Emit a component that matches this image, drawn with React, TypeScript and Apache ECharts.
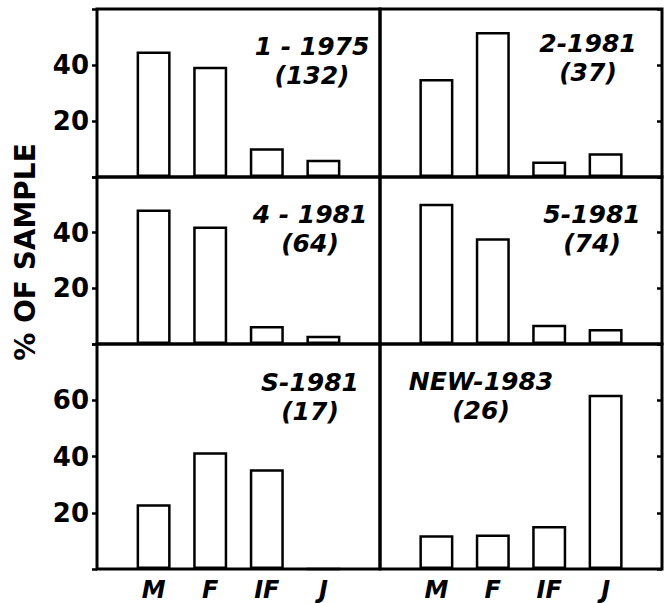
import React, { useEffect, useRef } from "react";
import * as echarts from "echarts";

const categories = ["M", "F", "IF", "J"];
const panelTitles = ["1 - 1975", "2-1981", "4 - 1981", "5-1981", "S-1981", "NEW-1983"];
const sampleSizes = ["(132)", "(37)", "(64)", "(74)", "(17)", "(26)"];
const values1975_1 = [44.8, 39.4, 10.3, 6.2];
const values1981_2 = [35.0, 51.8, 5.5, 8.5];
const values1981_4 = [48.3, 42.2, 6.5, 3.0];
const values1981_5 = [50.4, 38.0, 6.9, 5.4];
const values1981_S = [23.0, 41.5, 35.5, 0];
const values1983_NEW = [12.0, 12.3, 15.3, 62.0];
const upperTicks = [20, 40];
const lowerTicks = [20, 40, 60];
const upperMax = 60;
const lowerMax = 80;
const yAxisTitle = "% OF SAMPLE";

const panelValues = [values1975_1, values1981_2, values1981_4, values1981_5, values1981_S, values1983_NEW];

// layout (pixels)
const cols = [
  { left: 97, width: 283 },
  { left: 380, width: 282 },
];
const rows = [
  { top: 9, height: 168 },
  { top: 177, height: 167 },
  { top: 344, height: 225 },
];
const titleOffsets = [
  { dx: 215, dy: 23 },
  { dx: 208, dy: 20 },
  { dx: 213, dy: 23 },
  { dx: 212, dy: 23 },
  { dx: 213, dy: 24 },
  { dx: 101, dy: 23 },
];

const FONT = "DejaVu Sans";

export default function App() {
  const ref = useRef<HTMLDivElement>(null);
  useEffect(() => {
    if (!ref.current) return;
    const chart = echarts.init(ref.current, null, { renderer: "svg" });
    const grids: any[] = [];
    const xAxes: any[] = [];
    const yAxes: any[] = [];
    const series: any[] = [];
    const graphics: any[] = [];
    for (let p = 0; p < 6; p++) {
      const r = Math.floor(p / 2);
      const c = p % 2;
      const isBottom = r === 2;
      const ticks = isBottom ? lowerTicks : upperTicks;
      grids.push({
        left: cols[c].left,
        width: cols[c].width,
        top: rows[r].top,
        height: rows[r].height,
        show: true,
        borderColor: "#000",
        borderWidth: 3,
        backgroundColor: "transparent",
      });
      xAxes.push({
        type: "value",
        gridIndex: p,
        min: -1,
        max: 4,
        interval: 1,
        axisLine: { show: false, onZero: false },
        axisTick: { show: false },
        splitLine: { show: false },
        axisLabel: {
          show: isBottom,
          margin: 9,
          formatter: (v: number) => categories[v] ?? "",
          color: "#000",
          fontFamily: FONT,
          fontWeight: "bold",
          fontStyle: "italic",
          fontSize: 24,
        },
      });
      yAxes.push({
        type: "value",
        gridIndex: p,
        min: 0,
        max: isBottom ? lowerMax : upperMax,
        interval: 20,
        position: c === 0 ? "left" : "right",
        axisLine: { show: false, onZero: false },
        splitLine: { show: false },
        axisTick: {
          show: true,
          inside: c === 1,
          length: 5,
          lineStyle: { color: "#000", width: 2.5 },
        },
        axisLabel: {
          show: c === 0,
          margin: 8,
          formatter: (v: number) => (ticks.indexOf(v) >= 0 ? String(v) : ""),
          color: "#000",
          fontFamily: FONT,
          fontWeight: "bold",
          fontSize: 26,
        },
      });
      series.push({
        type: "bar",
        xAxisIndex: p,
        yAxisIndex: p,
        barWidth: 34,
        data: panelValues[p].map((v, i) => [i, v]),
        itemStyle: { color: "#fff", borderColor: "#000", borderWidth: 2.5 },
      });
      graphics.push({
        type: "text",
        x: cols[c].left + titleOffsets[p].dx,
        y: rows[r].top + titleOffsets[p].dy,
        style: {
          text: panelTitles[p] + "\n" + sampleSizes[p],
          fill: "#000",
          font: `italic bold 25px "${FONT}"`,
          textAlign: "center",
          textVerticalAlign: "top",
          lineHeight: 29,
        },
      });
    }
    graphics.push({
      type: "text",
      x: 25,
      y: 252,
      rotation: Math.PI / 2,
      style: {
        text: yAxisTitle,
        fill: "#000",
        font: `bold 28px "${FONT}"`,
        textAlign: "center",
        textVerticalAlign: "middle",
      },
    });
    chart.setOption({
      animation: false,
      backgroundColor: "#fff",
      grid: grids,
      xAxis: xAxes,
      yAxis: yAxes,
      series,
      graphic: graphics,
    });
    return () => chart.dispose();
  }, []);
  return (
    <div
      ref={ref}
      style={{ position: "absolute", left: 0, top: 0, width: 671, height: 603 }}
    />
  );
}
